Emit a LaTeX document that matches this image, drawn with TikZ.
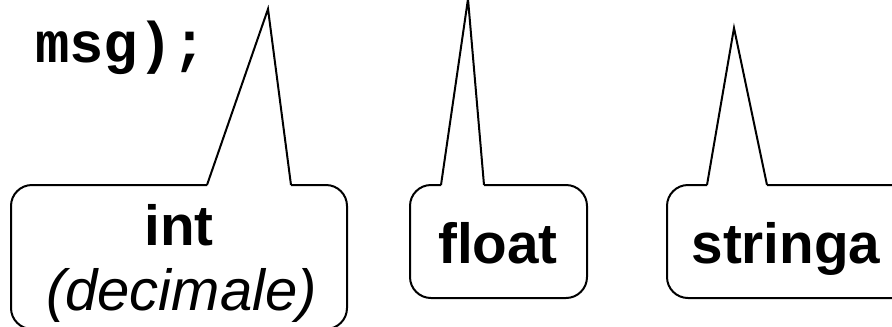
\documentclass[tikz,border=0pt]{standalone}
\usepackage{fontspec}
\setmainfont{Liberation Sans}
\setmonofont{Liberation Mono}

\tikzset{every picture/.style={line width=1.5pt}}
\tikzset{typelabel/.style={inner sep=0.75pt, font=\fontsize{42.5}{48}\selectfont\bfseries}}

\begin{document}
\begin{tikzpicture}[x=0.75pt,y=0.75pt,yscale=-1,xscale=1]
%set diagram left start at 0, and has height of 326
\useasboundingbox (0,0) rectangle (892,326);

%Shape: Rounded Rect [id:int box] 
\draw [rounded corners=15.75pt]  (207,185) -- (11,185) -- (11,329) -- (347,329) -- (347,185) -- (291,185) ;
%Straight Lines [id:int pointer] 
\draw    (207,185) -- (268,9) -- (291,185) ;
%Shape: Rounded Rect [id:float box] 
\draw [rounded corners=15.75pt]  (441,185) -- (410,185) -- (410,298) -- (587,298) -- (587,185) -- (484,185) ;
%Straight Lines [id:float pointer] 
\draw    (441,185) -- (468,-1) -- (484,185) ;
%Shape: Rounded Rect [id:stringa box] 
\draw [rounded corners=15.75pt]  (707,185) -- (667,185) -- (667,298) -- (915,298) -- (915,185) -- (767,185) ;
%Straight Lines [id:stringa pointer] 
\draw    (707,185) -- (734,28) -- (767,185) ;

% Text Node
\draw (33,62) node (msg) [anchor=base west] [inner sep=0.75pt]  [font=\fontsize{43}{48}\selectfont\ttfamily\bfseries]  {msg);};
% Text Node
\draw (179,245) node (int) [anchor=base] [typelabel]  {int};
% Text Node
\draw (181.5,310) node (decimale) [anchor=base] [inner sep=0.75pt]  [font=\fontsize{43.5}{48}\selectfont\itshape]  {(decimale)};
% Text Node
\draw (498,263) node (float) [anchor=base] [typelabel]  {float};
% Text Node
\draw (786,263) node (stringa) [anchor=base] [typelabel]  {stringa};

\end{tikzpicture}
\end{document}
